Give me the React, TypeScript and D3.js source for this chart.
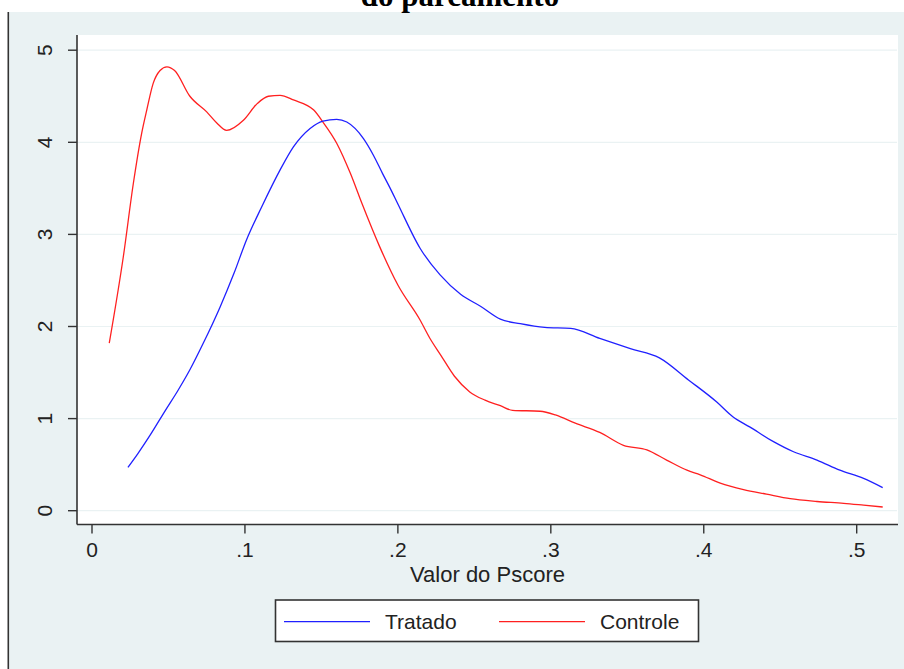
import React from "react";
import * as d3 from "d3";

const pscoreTratado = [0.0235,0.030,0.038,0.048,0.056,0.064,0.0728,0.0837,0.0929,0.101,0.111,0.123,0.1317,0.1426,0.151,0.160,0.1666,0.1775,0.184,0.190,0.195,0.2,0.2145,0.2276,0.241,0.254,0.267,0.28,0.296,0.313,0.332,0.352,0.371,0.390,0.4085,0.419,0.430,0.4456,0.4587,0.474,0.489,0.5045,0.517];
const densTratado = [0.47,0.62,0.82,1.09,1.30,1.53,1.82,2.21,2.58,2.94,3.30,3.70,3.95,4.15,4.23,4.25,4.22,4.04,3.86,3.66,3.50,3.33,2.85,2.56,2.35,2.22,2.08,2.03,1.99,1.98,1.87,1.76,1.66,1.42,1.18,1.02,0.91,0.75,0.64,0.55,0.44,0.35,0.25];

const pscoreControle = [0.0113,0.0205,0.027,0.0325,0.0358,0.040,0.0445,0.049,0.054,0.064,0.075,0.0816,0.088,0.099,0.108,0.1153,0.123,0.1317,0.145,0.151,0.160,0.169,0.1764,0.188,0.2,0.2145,0.221,0.228,0.237,0.247,0.257,0.267,0.275,0.293,0.303,0.316,0.332,0.3475,0.3628,0.3757,0.389,0.3977,0.4108,0.426,0.441,0.4565,0.474,0.4915,0.5045,0.517];
const densControle = [1.82,2.76,3.55,4.10,4.35,4.64,4.78,4.82,4.78,4.50,4.33,4.21,4.13,4.24,4.42,4.50,4.51,4.46,4.35,4.22,3.99,3.66,3.34,2.87,2.45,2.07,1.87,1.69,1.46,1.29,1.20,1.14,1.09,1.08,1.04,0.95,0.85,0.71,0.66,0.55,0.44,0.39,0.30,0.23,0.18,0.13,0.10,0.08,0.06,0.04];

const xTicks = [0, 0.1, 0.2, 0.3, 0.4, 0.5];
const xTickLabels = ["0", ".1", ".2", ".3", ".4", ".5"];
const yTicks = [0, 1, 2, 3, 4, 5];
const seriesNames = ["Tratado", "Controle"];
const titleText = "do parcamento";
const xAxisTitle = "Valor do Pscore";

const W = 904;
const H = 669;
const BG = "#EAF2F3";
const AXIS = "#333333";
const SANS = "'Liberation Sans', Arial, sans-serif";

export default function App() {
  const x = d3.scaleLinear().domain([0, 0.5]).range([92, 856.7]);
  const y = d3.scaleLinear().domain([0, 5]).range([510.7, 50.2]);
  const plotL = 77, plotR = 898, plotT = 35, plotB = 524.5;

  const line = d3
    .line<[number, number]>()
    .x((d) => x(d[0]))
    .y((d) => y(d[1]))
    .curve(d3.curveMonotoneX);

  const tr: [number, number][] = pscoreTratado.map((p, i) => [p, densTratado[i]]);
  const co: [number, number][] = pscoreControle.map((p, i) => [p, densControle[i]]);

  return (
    <svg
      width={W}
      height={H}
      style={{ position: "absolute", left: 0, top: 0, display: "block" }}
    >
      <rect x={0} y={0} width={W} height={H} fill="#ffffff" />
      <rect x={9} y={12} width={W - 9} height={H - 12} fill={BG} />
      <line x1={8.3} x2={8.3} y1={12} y2={H} stroke={AXIS} strokeWidth={1.6} />
      <text
        x={460}
        y={6}
        textAnchor="middle"
        fontFamily="'Liberation Serif', 'Times New Roman', serif"
        fontWeight="bold"
        fontSize={31}
        fill="#000"
      >
        {titleText}
      </text>

      <rect x={plotL} y={plotT} width={plotR - plotL} height={plotB - plotT} fill="#ffffff" />
      {yTicks.map((t) => (
        <line key={"g" + t} x1={plotL} x2={plotR - 1} y1={y(t)} y2={y(t)} stroke={BG} strokeWidth={1.2} />
      ))}

      <path d={line(co) || ""} fill="none" stroke="#ff2020" strokeWidth={1.3} />
      <path d={line(tr) || ""} fill="none" stroke="#2020ff" strokeWidth={1.3} />

      <line x1={plotL} x2={plotL} y1={plotT} y2={plotB} stroke={AXIS} strokeWidth={1.6} />
      <line x1={plotL} x2={plotR} y1={plotB} y2={plotB} stroke={AXIS} strokeWidth={1.6} />

      {yTicks.map((t) => (
        <g key={"y" + t}>
          <line x1={68} x2={plotL} y1={y(t)} y2={y(t)} stroke={AXIS} strokeWidth={1.4} />
          <text
            transform={`translate(52,${y(t)}) rotate(-90)`}
            textAnchor="middle"
            fontFamily={SANS}
            fontSize={21}
            fill="#222"
          >
            {String(t)}
          </text>
        </g>
      ))}
      {xTicks.map((t, i) => (
        <g key={"x" + t}>
          <line x1={x(t)} x2={x(t)} y1={plotB} y2={533.5} stroke={AXIS} strokeWidth={1.4} />
          <text x={x(t)} y={557} textAnchor="middle" fontFamily={SANS} fontSize={21} fill="#222">
            {xTickLabels[i]}
          </text>
        </g>
      ))}
      <text x={487.5} y={582} textAnchor="middle" fontFamily={SANS} fontSize={22} fill="#222">
        {xAxisTitle}
      </text>

      <rect x={275.5} y={600} width={423} height={41.5} fill="#ffffff" stroke={AXIS} strokeWidth={1.6} />
      <line x1={284} x2={370} y1={621.7} y2={621.7} stroke="#2020ff" strokeWidth={1.3} />
      <text x={385} y={629} fontFamily={SANS} fontSize={21} fill="#222">
        {seriesNames[0]}
      </text>
      <line x1={499} x2={585} y1={621.7} y2={621.7} stroke="#ff2020" strokeWidth={1.3} />
      <text x={600} y={629} fontFamily={SANS} fontSize={21} fill="#222">
        {seriesNames[1]}
      </text>
    </svg>
  );
}
